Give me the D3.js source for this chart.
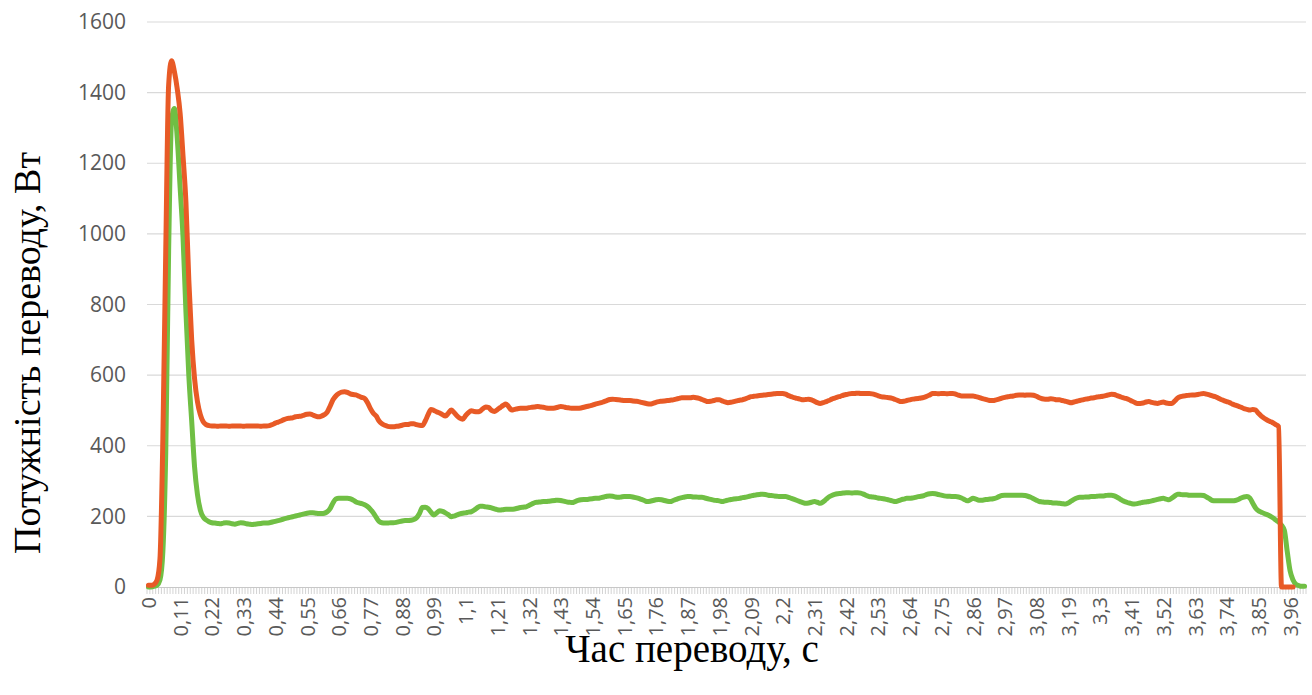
<!DOCTYPE html>
<html>
<head>
<meta charset="utf-8">
<script src="https://cdn.jsdelivr.net/npm/d3@7"></script>
<style>
  html, body { margin: 0; padding: 0; background: #ffffff; }
  svg { display: block; }
</style>
</head>
<body>
<svg id="chart" width="1312" height="695"></svg>
<script>
// Time samples, 0.00 … 4.01 s in 0.01 s steps
const timeSteps = d3.range(402).map(i => +(i / 100).toFixed(2));

// Labelled positions on the time axis (every 11th sample)
const tickEvery = 11;

// Power axis ticks, W
const powerTicks = [0, 200, 400, 600, 800, 1000, 1200, 1400, 1600];

// Orange series, W
const powerA = [
  5, 5, 8, 20, 80, 420, 950, 1420, 1490, 1460,
  1410, 1340, 1220, 1090, 870, 700, 590, 525, 488, 468,
  460, 457, 456, 456, 455, 456, 456, 456, 455, 456,
  456, 456, 456, 455, 456, 456, 456, 456, 456, 455,
  456, 456, 457, 460, 464, 467, 470, 474, 477, 478,
  479, 482, 483, 484, 487, 489, 490, 487, 484, 482,
  484, 488, 495, 512, 530, 541, 548, 552, 553, 551,
  547, 545, 544, 540, 537, 534, 522, 505, 492, 484,
  470, 462, 458, 455, 454, 454, 455, 456, 458, 460,
  460, 462, 462, 460, 458, 457, 470, 488, 503, 500,
  496, 493, 488, 484, 492, 501, 494, 485, 478, 475,
  485, 494, 499, 497, 496, 498, 505, 510, 508, 500,
  497, 502, 508, 514, 518, 510, 501, 503, 505, 506,
  506, 506, 508, 509, 510, 511, 510, 509, 507, 506,
  506, 507, 509, 511, 510, 508, 507, 506, 506, 506,
  507, 509, 511, 513, 515, 518, 520, 522, 525, 528,
  531, 532, 531, 530, 529, 528, 528, 528, 527, 526,
  525, 523, 521, 519, 518, 520, 523, 525, 526, 527,
  528, 529, 530, 532, 534, 536, 536, 536, 536, 537,
  536, 534, 531, 528, 525, 526, 528, 530, 530, 527,
  524, 522, 523, 525, 527, 529, 530, 533, 536, 539,
  540, 541, 542, 543, 544, 545, 546, 547, 548, 548,
  548, 546, 542, 539, 536, 534, 532, 530, 531, 532,
  530, 526, 522, 520, 522, 525, 528, 532, 535, 538,
  540, 543, 545, 547, 548, 548, 549, 548, 548, 548,
  548, 547, 545, 542, 539, 538, 537, 536, 534, 531,
  528, 525, 526, 528, 530, 532, 533, 534, 535, 537,
  540, 544, 548, 548, 547, 548, 548, 547, 548, 548,
  546, 543, 541, 541, 541, 541, 541, 539, 537, 534,
  532, 530, 528, 528, 530, 532, 535, 537, 539, 540,
  541, 543, 544, 544, 543, 544, 544, 543, 540, 536,
  533, 532, 532, 533, 532, 530, 530, 528, 526, 524,
  522, 524, 526, 528, 530, 532, 533, 535, 536, 538,
  539, 540, 542, 544, 546, 545, 542, 539, 536, 534,
  531, 527, 523, 520, 520, 521, 524, 525, 523, 521,
  520, 522, 524, 521, 520, 520, 527, 535, 539, 541,
  542, 543, 544, 544, 545, 547, 548, 546, 544, 541,
  539, 535, 531, 528, 525, 522, 518, 515, 512, 509,
  505, 503, 501, 503, 501, 492, 484, 478, 473, 469,
  465, 460, 454, 0, 0, 0, 0, 0
];

// Green series, W
const powerB = [
  0, 0, 2, 5, 20, 100, 380, 950, 1320, 1355,
  1270, 1130, 990, 780, 600, 470, 340, 262, 218, 198,
  190, 185, 182, 181, 180, 179, 181, 182, 181, 179,
  178, 180, 182, 181, 179, 178, 177, 178, 179, 180,
  181, 181, 182, 184, 186, 188, 190, 193, 195, 197,
  199, 201, 203, 205, 207, 209, 210, 210, 209, 208,
  208, 209, 213, 222, 238, 249, 251, 251, 251, 251,
  250, 246, 241, 238, 236, 233, 228, 220, 210, 197,
  186, 182, 181, 181, 182, 182, 183, 185, 187, 188,
  188, 189, 191, 196, 208, 225, 226, 222, 212, 204,
  210, 216, 214, 210, 205, 199, 201, 204, 207, 209,
  210, 212, 213, 218, 224, 229, 229, 227, 226, 224,
  221, 219, 218, 219, 220, 220, 220, 221, 223, 225,
  226, 227, 231, 235, 239, 240, 241, 242, 242, 243,
  244, 245, 246, 245, 243, 241, 240, 239, 242, 245,
  247, 248, 248, 249, 250, 251, 251, 253, 255, 257,
  258, 257, 255, 254, 255, 256, 256, 256, 255, 253,
  251, 248, 245, 242, 243, 245, 247, 248, 247, 245,
  243, 242, 245, 248, 251, 253, 255, 256, 256, 255,
  255, 254, 254, 252, 250, 248, 246, 245, 244, 242,
  244, 246, 248, 249, 250, 251, 253, 254, 256, 258,
  260, 261, 262, 263, 262, 260, 259, 258, 257, 256,
  256, 256, 254, 251, 248, 245, 242, 239, 237, 238,
  240, 242, 240, 237, 241, 248, 255, 259, 262, 264,
  265, 266, 267, 267, 266, 267, 267, 266, 263, 259,
  256, 255, 254, 252, 251, 250, 248, 246, 244, 242,
  244, 247, 249, 251, 251, 252, 254, 256, 257, 259,
  262, 264, 265, 264, 262, 260, 258, 257, 257, 256,
  256, 255, 252, 248, 244, 247, 251, 249, 246, 246,
  247, 248, 249, 250, 252, 256, 259, 260, 260, 260,
  260, 260, 260, 260, 259, 257, 254, 250, 246, 242,
  241, 240, 240, 239, 238, 238, 237, 236, 235, 238,
  243, 248, 252, 254, 254, 255, 255, 256, 256, 257,
  258, 258, 259, 260, 260, 258, 254, 249, 244, 241,
  238, 236, 235, 236, 238, 240, 241, 242, 244, 246,
  248, 250, 251, 249, 247, 252, 258, 263, 262, 261,
  261, 260, 260, 260, 260, 260, 259, 255, 250, 245,
  244, 244, 244, 244, 244, 244, 244, 245, 248, 252,
  255, 256, 252, 238, 224, 216, 212, 208, 205, 201,
  196, 190, 184, 175, 160, 100, 45, 20, 8, 4,
  2, 2
];

const fmtTime = v => String(v).replace(".", ",");
const tickLabels = timeSteps.filter((_, i) => i % tickEvery === 0).map(fmtTime);

const svg = d3.select("#chart");
const plot = { left: 147, right: 1306, top: 22, bottom: 587 };

const x = d3.scaleBand()
  .domain(d3.range(timeSteps.length))
  .range([plot.left, plot.right])
  .paddingInner(0).paddingOuter(0);
const xc = i => x(i) + x.bandwidth() / 2;

const y = d3.scaleLinear().domain([0, 1600]).range([plot.bottom, plot.top]);

// Horizontal grid
svg.append("g")
  .selectAll("line")
  .data(powerTicks.filter(d => d > 0))
  .join("line")
  .attr("x1", plot.left).attr("x2", plot.right)
  .attr("y1", d => y(d)).attr("y2", d => y(d))
  .attr("stroke", "#d9d9d9").attr("stroke-width", 1.2);

// Power axis labels
const yAxis = d3.axisLeft(y)
  .tickValues(powerTicks)
  .tickFormat(d3.format("d"))
  .tickSize(0)
  .tickPadding(21);
svg.append("g")
  .attr("transform", `translate(${plot.left},0)`)
  .call(yAxis)
  .call(g => g.select(".domain").remove())
  .call(g => g.selectAll("text")
    .attr("font-family", "'Open Sans', sans-serif")
    .attr("font-size", 21)
    .attr("fill", "#595959"));

// Time axis: line, a tick at every sample boundary, labels every 11th sample
svg.append("line")
  .attr("x1", plot.left).attr("x2", plot.right)
  .attr("y1", plot.bottom + 0.5).attr("y2", plot.bottom + 0.5)
  .attr("stroke", "#c8c8c8").attr("stroke-width", 1.2);

svg.append("g")
  .selectAll("line")
  .data(d3.range(timeSteps.length + 1))
  .join("line")
  .attr("x1", i => plot.left + i * x.bandwidth())
  .attr("x2", i => plot.left + i * x.bandwidth())
  .attr("y1", plot.bottom).attr("y2", plot.bottom + 7)
  .attr("stroke", "#c8c8c8").attr("stroke-width", 0.8);

svg.append("g")
  .selectAll("text")
  .data(tickLabels)
  .join("text")
  .attr("transform", (d, k) => `translate(${xc(k * tickEvery)},${plot.bottom + 10}) rotate(-90)`)
  .attr("text-anchor", "end")
  .attr("dominant-baseline", "central")
  .attr("font-family", "'Open Sans', sans-serif")
  .attr("font-size", 20)
  .attr("fill", "#595959")
  .text(d => d);

// Series lines
const line = d3.line()
  .x((d, i) => xc(i))
  .y(d => y(d))
  .curve(d3.curveMonotoneX);

svg.append("path")
  .datum(powerB)
  .attr("d", line)
  .attr("fill", "none")
  .attr("stroke", "#70bf44")
  .attr("stroke-width", 5)
  .attr("stroke-linejoin", "round")
  .attr("stroke-linecap", "round");

svg.append("path")
  .datum(powerA)
  .attr("d", line)
  .attr("fill", "none")
  .attr("stroke", "#e85a26")
  .attr("stroke-width", 5)
  .attr("stroke-linejoin", "round")
  .attr("stroke-linecap", "round");

// Axis titles
svg.append("text")
  .attr("x", 692).attr("y", 662)
  .attr("text-anchor", "middle")
  .attr("font-family", "'Liberation Serif', 'Times New Roman', serif")
  .attr("font-size", 39)
  .attr("fill", "#000")
  .text("Час переводу, с");

svg.append("text")
  .attr("transform", "translate(40,353) rotate(-90)")
  .attr("text-anchor", "middle")
  .attr("font-family", "'Liberation Serif', 'Times New Roman', serif")
  .attr("font-size", 38)
  .attr("fill", "#000")
  .text("Потужність переводу, Вт");
</script>
</body>
</html>
